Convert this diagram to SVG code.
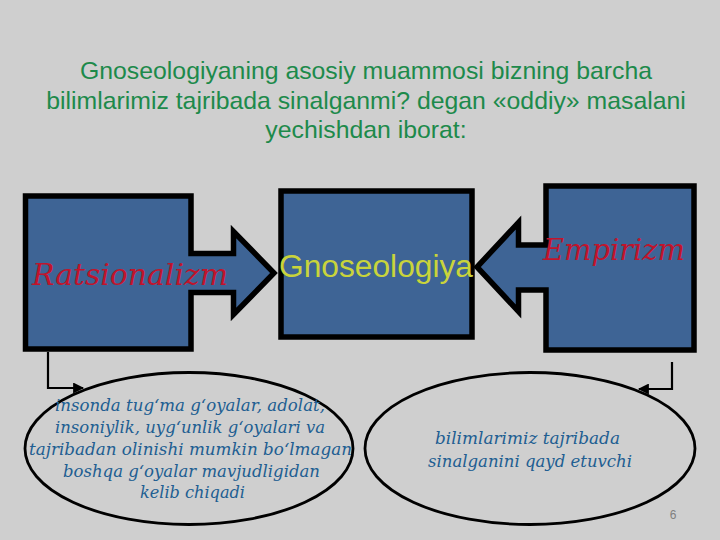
<svg xmlns="http://www.w3.org/2000/svg" width="720" height="540" viewBox="0 0 720 540">
<defs>
<style>
.title{font-family:"Liberation Sans",Arial,sans-serif;font-size:24.8px;fill:#1d8a4b;text-anchor:middle}
.shape{fill:#3e6495;stroke:#000;stroke-width:5.5;stroke-linejoin:miter}
.big{font-family:"DejaVu Serif","Liberation Serif",serif;font-style:italic;font-size:30px;fill:#c0142c}
.mid{font-family:"Liberation Sans",Arial,sans-serif;font-size:31px;fill:#c9d43b}
.oval{fill:none;stroke:#000;stroke-width:2.8}
.otext{font-family:"DejaVu Serif","Liberation Serif",serif;font-style:italic;font-size:17px;fill:#215e92;text-anchor:middle}
.conn{fill:none;stroke:#000;stroke-width:2.2}
</style>
<marker id="ah" viewBox="0 0 10 10" refX="9" refY="5" markerWidth="5.5" markerHeight="5" markerUnits="strokeWidth" orient="auto">
<path d="M0,0 L10,5 L0,10 Z" fill="#000"/>
</marker>
</defs>
<rect width="720" height="540" fill="#cfcfcf"/>
<g id="title">
<text class="title" x="366" y="79">Gnoseologiyaning asosiy muammosi bizning barcha</text>
<text class="title" x="366" y="108.5">bilimlarimiz tajribada sinalganmi? degan «oddiy» masalani</text>
<text class="title" x="366" y="138">yechishdan iborat:</text>
</g>
<g id="connectors">
<path class="conn" d="M48,352 V388 H83" marker-end="url(#ah)"/>
<path class="conn" d="M672,362 V389 H639" marker-end="url(#ah)"/>
</g>
<g id="gnoseologiya">
<rect class="shape" x="281" y="191" width="191" height="146"/>
<text class="mid" x="279" y="277" textLength="194" lengthAdjust="spacingAndGlyphs">Gnoseologiya</text>
</g>
<g id="ratsionalizm">
<path class="shape" d="M25.5,196 H191 V253.5 H233.5 V231.5 L274,273 L233.5,314.5 V292.5 H191 V349 H25.5 Z"/>
<text class="big" x="32" y="285" textLength="196" lengthAdjust="spacingAndGlyphs">Ratsionalizm</text>
</g>
<g id="empirizm">
<path class="shape" d="M546,186 H694 V350 H546 V290 H518.5 V311.5 L477,267 L518.5,222.5 V245 H546 Z"/>
<text class="big" x="543" y="260" textLength="142" lengthAdjust="spacingAndGlyphs">Empirizm</text>
</g>
<g id="oval-left">
<ellipse class="oval" cx="189" cy="448.5" rx="164" ry="76"/>
<text class="otext" x="190" y="411" textLength="270" lengthAdjust="spacingAndGlyphs">insonda tug‘ma g‘oyalar, adolat,</text>
<text class="otext" x="190" y="433" textLength="270" lengthAdjust="spacingAndGlyphs">insoniylik, uyg‘unlik g‘oyalari va</text>
<text class="otext" x="190.5" y="455" textLength="323" lengthAdjust="spacingAndGlyphs">tajribadan olinishi mumkin bo‘lmagan</text>
<text class="otext" x="191.5" y="477" textLength="257" lengthAdjust="spacingAndGlyphs">boshqa g‘oyalar mavjudligidan</text>
<text class="otext" x="192.5" y="498" textLength="105" lengthAdjust="spacingAndGlyphs">kelib chiqadi</text>
</g>
<g id="oval-right">
<ellipse class="oval" cx="530" cy="448.5" rx="165" ry="76"/>
<text class="otext" x="527.5" y="444" textLength="185" lengthAdjust="spacingAndGlyphs">bilimlarimiz tajribada</text>
<text class="otext" x="530" y="466.5" textLength="204" lengthAdjust="spacingAndGlyphs">sinalganini qayd etuvchi</text>
</g>
<text x="673" y="519" font-family="'Liberation Sans',Arial,sans-serif" font-size="12" fill="#808080" text-anchor="middle">6</text>
</svg>
